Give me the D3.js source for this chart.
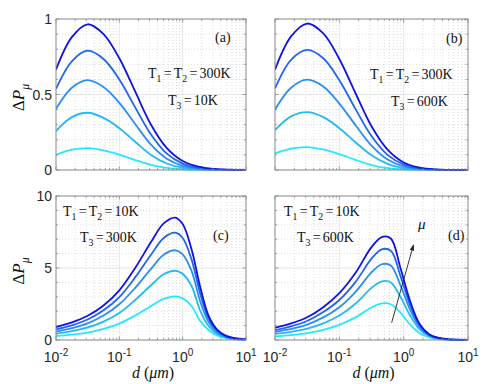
<!DOCTYPE html>
<html>
<head>
<meta charset="utf-8">
<script src="https://d3js.org/d3.v7.min.js"></script>
<style>
  body { margin: 0; background: #fff; }
  svg { display: block; }
  .serif { font-family: "Liberation Serif", "DejaVu Serif", serif; }
  .sans { font-family: "Liberation Sans", "DejaVu Sans", sans-serif; }
</style>
</head>
<body>
<svg id="chart" width="491" height="384"></svg>
<script>
// log10(d) sample positions
const logDTop = [-2, -1.75, -1.5, -1.25, -1, -0.75, -0.5, -0.25, 0, 0.25, 0.5, 0.75, 1];
const logDC = [-2, -1.75, -1.5, -1.25, -1, -0.75, -0.5, -0.3, -0.12, 0, 0.14, 0.28, 0.41, 0.54, 0.67, 0.8, 1];
const logDD = [-2, -1.75, -1.5, -1.25, -1, -0.75, -0.5, -0.34, -0.2, -0.05, 0.1, 0.25, 0.4, 0.55, 0.7, 1];

// (a) T1=T2=300K, T3=10K  (largest mu first)
const pa1 = [0.665, 0.88, 0.965, 0.90, 0.74, 0.52, 0.30, 0.145, 0.06, 0.022, 0.007, 0.002, 0];
const pa2 = [0.537, 0.72, 0.79, 0.735, 0.60, 0.415, 0.235, 0.108, 0.042, 0.014, 0.004, 0.001, 0];
const pa3 = [0.405, 0.545, 0.595, 0.55, 0.445, 0.305, 0.168, 0.075, 0.028, 0.009, 0.003, 0.001, 0];
const pa4 = [0.258, 0.35, 0.379, 0.345, 0.277, 0.187, 0.100, 0.043, 0.015, 0.005, 0.001, 0, 0];
const pa5 = [0.10, 0.135, 0.145, 0.13, 0.102, 0.066, 0.034, 0.014, 0.005, 0.001, 0, 0, 0];

// (b) T1=T2=300K, T3=600K
const pb1 = [0.665, 0.885, 0.97, 0.905, 0.735, 0.51, 0.29, 0.135, 0.05, 0.016, 0.004, 0.001, 0];
const pb2 = [0.54, 0.73, 0.795, 0.74, 0.595, 0.405, 0.225, 0.10, 0.036, 0.011, 0.003, 0.001, 0];
const pb3 = [0.40, 0.545, 0.598, 0.553, 0.44, 0.298, 0.162, 0.07, 0.024, 0.007, 0.002, 0, 0];
const pb4 = [0.264, 0.355, 0.383, 0.35, 0.277, 0.184, 0.097, 0.04, 0.013, 0.004, 0.001, 0, 0];
const pb5 = [0.11, 0.142, 0.152, 0.136, 0.105, 0.067, 0.033, 0.013, 0.004, 0.001, 0, 0, 0];

// (c) T1=T2=10K, T3=300K
const pc1 = [0.90, 1.22, 1.68, 2.40, 3.45, 5.00, 6.80, 8.10, 8.50, 8.05, 6.30, 3.63, 1.67, 0.74, 0.32, 0.14, 0.05];
const pc2 = [0.74, 1.02, 1.42, 2.06, 2.98, 4.35, 5.92, 7.08, 7.45, 7.08, 5.60, 3.17, 1.48, 0.65, 0.28, 0.12, 0.04];
const pc3 = [0.58, 0.82, 1.16, 1.70, 2.48, 3.62, 4.94, 5.92, 6.23, 5.95, 4.80, 2.64, 1.25, 0.55, 0.24, 0.10, 0.03];
const pc4 = [0.43, 0.61, 0.87, 1.28, 1.88, 2.78, 3.80, 4.56, 4.81, 4.60, 3.75, 2.00, 0.97, 0.44, 0.19, 0.08, 0.03];
const pc5 = [0.27, 0.37, 0.52, 0.77, 1.14, 1.70, 2.36, 2.85, 3.03, 2.90, 2.36, 1.30, 0.69, 0.32, 0.14, 0.06, 0.02];

// (d) T1=T2=10K, T3=600K
const pd1 = [0.85, 1.15, 1.58, 2.28, 3.25, 4.65, 6.45, 7.15, 7.05, 5.00, 2.70, 1.09, 0.39, 0.14, 0.05, 0.01];
const pd2 = [0.69, 0.95, 1.32, 1.94, 2.78, 4.02, 5.65, 6.30, 6.20, 4.45, 2.42, 1.00, 0.36, 0.13, 0.05, 0.01];
const pd3 = [0.56, 0.77, 1.07, 1.57, 2.28, 3.33, 4.70, 5.26, 5.18, 3.80, 2.10, 0.88, 0.32, 0.11, 0.04, 0.01];
const pd4 = [0.42, 0.57, 0.79, 1.16, 1.70, 2.52, 3.62, 4.07, 4.00, 3.00, 1.70, 0.72, 0.27, 0.09, 0.03, 0.01];
const pd5 = [0.25, 0.34, 0.48, 0.71, 1.05, 1.57, 2.26, 2.54, 2.48, 1.90, 1.06, 0.47, 0.18, 0.06, 0.02, 0.00];

const xTicks = [0.01, 0.1, 1, 10];
const yTicksTop = [0, 0.5, 1];
const yTicksBottom = [0, 5, 10];

// colores de azul (mu grande) a cian (mu pequeño)
const lineColors = ["#1212e8", "#1f66ee", "#2a8ef2", "#22b9f6", "#22eafc"];

const svg = d3.select("#chart");

// texto con subíndices / cursivas
function richText(g, x, y, parts, size, anchor) {
    const t = g.append("text")
        .attr("class", "serif")
        .attr("x", x).attr("y", y)
        .attr("font-size", size)
        .attr("fill", "#111")
        .attr("text-anchor", anchor || "start");
    let shift = 0;
    parts.forEach(p => {
        const want = p.sub ? size * 0.28 : (p.sup ? -size * 0.4 : 0);
        const s = t.append("tspan").text(p.t).attr("dy", want - shift);
        shift = want;
        if (p.sub || p.sup) s.attr("font-size", size * 0.7);
        if (p.it) s.attr("font-style", "italic");
        if (p.dx) s.attr("dx", p.dx);
    });
    return t;
}

function tempLabel(g, x, y, pieces) {
    // pieces: [["T","1"],["T","2"],"300K"] -> T1=T2=300K
    const parts = [];
    pieces.forEach((pc, i) => {
        if (i > 0) parts.push({ t: "=", dx: 2.2 });
        if (Array.isArray(pc)) {
            parts.push({ t: pc[0], dx: i > 0 ? 2.2 : 0 });
            parts.push({ t: pc[1], sub: true });
        } else {
            parts.push({ t: pc, dx: 2.2 });
        }
    });
    richText(g, x, y, parts, 14);
}

function drawPanel(p) {
    const x = d3.scaleLog().domain([0.01, 10]).range([p.left, p.right]);
    const y = d3.scaleLinear().domain([0, p.ymax]).range([p.bottom, p.top]);
    const g = svg.append("g");

    const allX = x.ticks();
    const majorX = xTicks;
    const minorX = allX.filter(v => !majorX.some(m => Math.abs(m - v) / m < 1e-6));
    const minorY = d3.range(1, 10).map(i => i * p.ymax / 10).filter(v => Math.abs(v - p.ymax / 2) > 1e-9);

    // grid menor (punteado)
    g.selectAll(".gmx").data(minorX).enter().append("line")
        .attr("x1", d => x(d)).attr("x2", d => x(d))
        .attr("y1", p.top).attr("y2", p.bottom)
        .attr("stroke", "#c8c8c8").attr("stroke-width", 0.6).attr("stroke-dasharray", "1,2");
    g.selectAll(".gmy").data(minorY).enter().append("line")
        .attr("x1", p.left).attr("x2", p.right)
        .attr("y1", d => y(d)).attr("y2", d => y(d))
        .attr("stroke", "#c8c8c8").attr("stroke-width", 0.6).attr("stroke-dasharray", "1,2");
    // grid mayor
    g.selectAll(".gMx").data(majorX).enter().append("line")
        .attr("x1", d => x(d)).attr("x2", d => x(d))
        .attr("y1", p.top).attr("y2", p.bottom)
        .attr("stroke", "#e0e0e0").attr("stroke-width", 0.8);
    g.selectAll(".gMy").data(p.yTicks).enter().append("line")
        .attr("x1", p.left).attr("x2", p.right)
        .attr("y1", d => y(d)).attr("y2", d => y(d))
        .attr("stroke", "#e0e0e0").attr("stroke-width", 0.8);

    // curvas
    const clipId = "clip" + p.name;
    svg.append("clipPath").attr("id", clipId).append("rect")
        .attr("x", p.left).attr("y", p.top - 2)
        .attr("width", p.right - p.left).attr("height", p.bottom - p.top + 4);
    const line = d3.line()
        .x(d => x(Math.pow(10, d[0])))
        .y(d => y(Math.max(0, d[1])))
        .curve(d3.curveCatmullRom.alpha(0.5));
    const curves = g.append("g").attr("clip-path", `url(#${clipId})`);
    p.series.slice().reverse().forEach((s, i) => {
        const k = p.series.length - 1 - i;
        curves.append("path")
            .datum(p.xs.map((v, j) => [v, s[j]]))
            .attr("d", line)
            .attr("fill", "none")
            .attr("stroke", lineColors[k])
            .attr("stroke-width", 1.8)
            .attr("stroke-linejoin", "round");
    });

    // marco y marcas hacia dentro
    const frameColor = "#8a8a8a";
    g.append("rect")
        .attr("x", p.left).attr("y", p.top)
        .attr("width", p.right - p.left).attr("height", p.bottom - p.top)
        .attr("fill", "none").attr("stroke", frameColor).attr("stroke-width", 0.9);
    const tk = g.append("g").attr("stroke", frameColor).attr("stroke-width", 0.8);
    majorX.concat(minorX).forEach(v => {
        const len = majorX.includes(v) ? 3.5 : 2;
        tk.append("line").attr("x1", x(v)).attr("x2", x(v)).attr("y1", p.bottom).attr("y2", p.bottom - len);
        tk.append("line").attr("x1", x(v)).attr("x2", x(v)).attr("y1", p.top).attr("y2", p.top + len);
    });
    p.yTicks.concat(minorY).forEach(v => {
        const len = p.yTicks.includes(v) ? 3.5 : 2;
        tk.append("line").attr("y1", y(v)).attr("y2", y(v)).attr("x1", p.left).attr("x2", p.left + len);
        tk.append("line").attr("y1", y(v)).attr("y2", y(v)).attr("x1", p.right).attr("x2", p.right - len);
    });

    // etiquetas del eje y
    if (p.showY) {
        g.selectAll(".yl").data(p.yTicks).enter().append("text")
            .attr("class", "sans")
            .attr("x", p.left - 4).attr("y", d => y(d) + 5)
            .attr("text-anchor", "end")
            .attr("font-size", 14).attr("fill", "#262626")
            .text(d => d3.format("~g")(d));
        richText(g, 0, 0, [{ t: "Δ" }, { t: "P", it: true }, { t: "μ", it: true, sub: true }], 17, "middle")
            .attr("transform", `translate(24,${(p.top + p.bottom) / 2 + 3}) rotate(-90)`);
    }
    // etiquetas del eje x
    if (p.showX) {
        majorX.forEach(v => {
            const e = Math.round(Math.log10(v));
            const t = g.append("text")
                .attr("class", "sans")
                .attr("x", x(v)).attr("y", p.bottom + 22)
                .attr("text-anchor", "middle")
                .attr("font-size", 14).attr("fill", "#262626");
            t.append("tspan").text("10");
            t.append("tspan").text(e).attr("font-size", 10).attr("dy", -6);
        });
        richText(g, (p.left + p.right) / 2 + 2, p.bottom + 38,
            [{ t: "d", it: true }, { t: " (" }, { t: "μm", it: true }, { t: ")" }], 16, "middle");
    }

    // anotaciones
    richText(g, p.tag[0], p.tag[1], [{ t: "(" + p.name + ")" }], 14);
    tempLabel(g, p.t12[0], p.t12[1], [["T", "1"], ["T", "2"], p.t12[2]]);
    tempLabel(g, p.t3[0], p.t3[1], [["T", "3"], p.t3[2]]);

    return { x, y, g };
}

const panels = [
    { name: "a", left: 56, right: 246, top: 19, bottom: 170, ymax: 1, yTicks: yTicksTop,
      xs: logDTop, series: [pa1, pa2, pa3, pa4, pa5], showY: true, showX: false,
      tag: [215, 42], t12: [148, 78, "300K"], t3: [168, 105, "10K"] },
    { name: "b", left: 275, right: 468, top: 19, bottom: 170, ymax: 1, yTicks: yTicksTop,
      xs: logDTop, series: [pb1, pb2, pb3, pb4, pb5], showY: false, showX: false,
      tag: [446, 43], t12: [370, 79, "300K"], t3: [391, 106, "600K"] },
    { name: "c", left: 56, right: 246, top: 196, bottom: 340, ymax: 10, yTicks: yTicksBottom,
      xs: logDC, series: [pc1, pc2, pc3, pc4, pc5], showY: true, showX: true,
      tag: [213, 240], t12: [63, 216, "10K"], t3: [80, 242, "300K"] },
    { name: "d", left: 275, right: 468, top: 196, bottom: 340, ymax: 10, yTicks: yTicksBottom,
      xs: logDD, series: [pd1, pd2, pd3, pd4, pd5], showY: false, showX: true,
      tag: [448, 240], t12: [284, 216, "10K"], t3: [297, 242, "600K"] }
];

const drawn = panels.map(drawPanel);

// flecha de mu en (d)
const panD = drawn[3];
svg.append("defs").append("marker")
    .attr("id", "arrowHead").attr("viewBox", "0 0 10 10")
    .attr("refX", 9).attr("refY", 5)
    .attr("markerWidth", 7).attr("markerHeight", 7)
    .attr("orient", "auto")
    .append("path").attr("d", "M0,1.5 L10,5 L0,8.5 Z").attr("fill", "#222");
panD.g.append("line")
    .attr("x1", panD.x(0.65)).attr("y1", panD.y(1.2))
    .attr("x2", panD.x(1.42)).attr("y2", panD.y(6.6))
    .attr("stroke", "#222").attr("stroke-width", 0.9)
    .attr("marker-end", "url(#arrowHead)");
richText(panD.g, 418, 229, [{ t: "μ", it: true }], 15);
</script>
</body>
</html>
